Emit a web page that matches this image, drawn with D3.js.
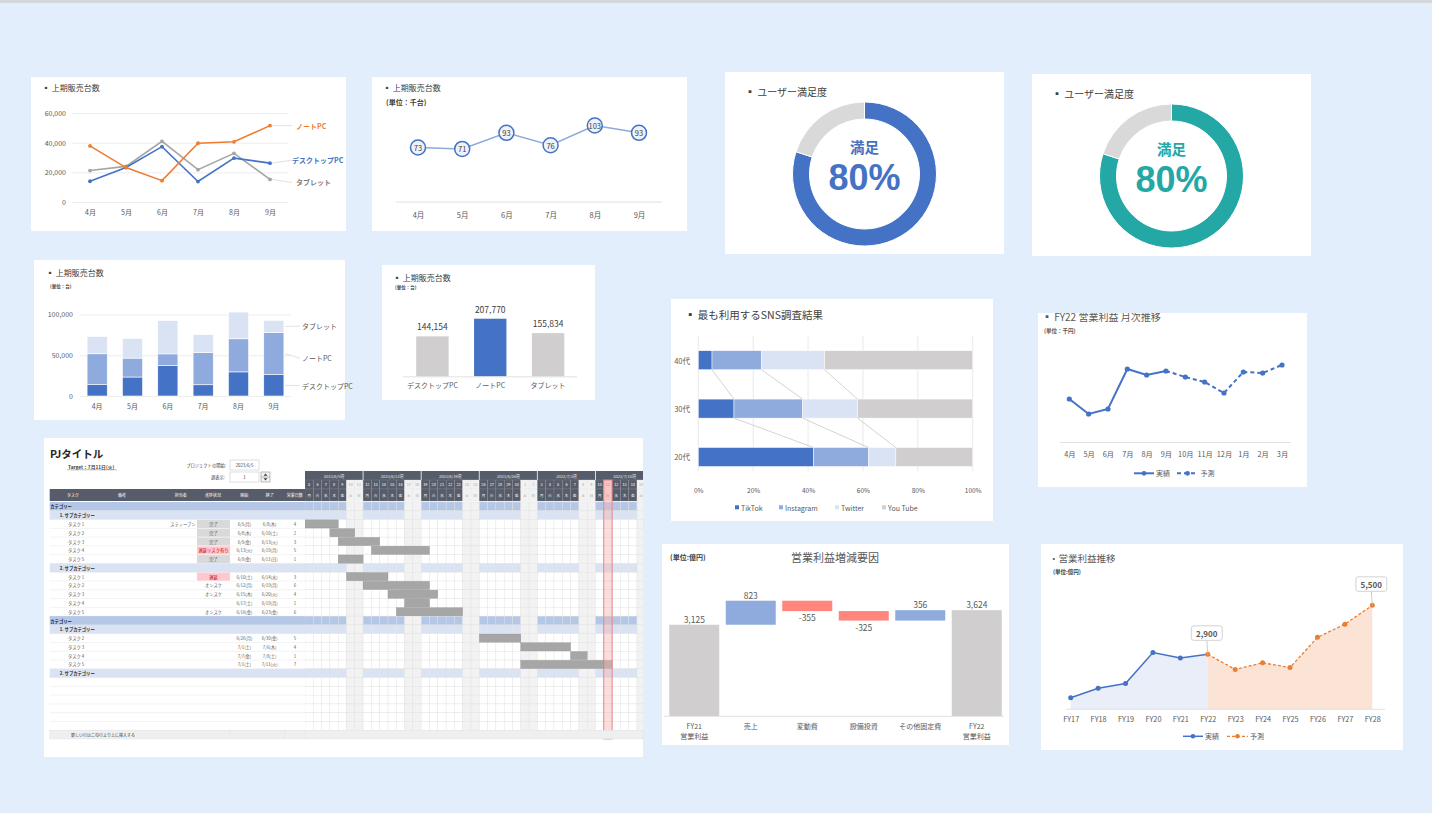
<!DOCTYPE html>
<html><head><meta charset="utf-8">
<script src="https://cdn.jsdelivr.net/npm/d3@7"></script>
<style>
html,body{margin:0;padding:0;background:#e2eefb;overflow:hidden;}
svg{display:block;font-family:"Noto Sans CJK JP","Noto Sans",sans-serif;}
</style></head><body>
<svg id="c" width="1432" height="813"></svg>
<script>
// ---------------- DATA ----------------
const months=["4月","5月","6月","7月","8月","9月"];
const desktopPC=[14000,23300,37300,13800,29600,26200];
const notePC=[37800,23200,14400,39600,40600,51500];
const tablet=[21200,24000,40900,21800,32800,15200];
const monthlyTotalK=[73,71,93,76,103,93];
const productNames=["デスクトップPC","ノートPC","タブレット"];
const productTotals=[144154,207770,155834];
const satisfaction=[0.8,0.2];
const ages=["40代","30代","20代"];
const snsNames=["TikTok","Instagram","Twitter","You Tube"];
const tiktok=[5,13,42];
const instagram=[18,25,20];
const twitter=[23,20,10];
const youtube=[54,42,28];
const fyMonths=["4月","5月","6月","7月","8月","9月","10月","11月","12月","1月","2月","3月"];
const fyProfit=[430,280,330,730,670,710,650,600,490,700,690,770];
const fyActualCount=6;
const wfCats=["FY21\n営業利益","売上","変動費","設備投資","その他固定費","FY22\n営業利益"];
const wfValues=[3125,823,-355,-325,356,3624];
const fyYears=["FY17","FY18","FY19","FY20","FY21","FY22","FY23","FY24","FY25","FY26","FY27","FY28"];
const opProfit=[600,1100,1350,3000,2700,2900,2100,2450,2200,3800,4500,5500];
const opActualCount=6;
const ganttColumns=["タスク","備考","担当者","進捗状況","開始","終了","営業日数"];
const ganttWeeks=["2023/6/5週","2023/6/12週","2023/6/19週","2023/6/26週","2023/7/3週","2023/7/10週"];
const ganttRows=[
 {type:"cat",name:"カテゴリー"},
 {type:"sub",name:"1. サブカテゴリー"},
 {type:"task",name:"タスク 1",owner:"スティーブン",status:"完了",start:"2023-06-05",end:"2023-06-08",days:4},
 {type:"task",name:"タスク 2",owner:"",status:"完了",start:"2023-06-08",end:"2023-06-10",days:2},
 {type:"task",name:"タスク 3",owner:"",status:"完了",start:"2023-06-09",end:"2023-06-13",days:3},
 {type:"task",name:"タスク 4",owner:"",status:"遅延リスク有り",start:"2023-06-13",end:"2023-06-19",days:5},
 {type:"task",name:"タスク 5",owner:"",status:"完了",start:"2023-06-09",end:"2023-06-11",days:1},
 {type:"sub",name:"2. サブカテゴリー"},
 {type:"task",name:"タスク 1",owner:"",status:"遅延",start:"2023-06-10",end:"2023-06-14",days:3},
 {type:"task",name:"タスク 2",owner:"",status:"オンスケ",start:"2023-06-12",end:"2023-06-19",days:6},
 {type:"task",name:"タスク 3",owner:"",status:"オンスケ",start:"2023-06-15",end:"2023-06-20",days:4},
 {type:"task",name:"タスク 4",owner:"",status:"",start:"2023-06-17",end:"2023-06-19",days:1},
 {type:"task",name:"タスク 5",owner:"",status:"オンスケ",start:"2023-06-16",end:"2023-06-23",days:6},
 {type:"cat",name:"カテゴリー"},
 {type:"sub",name:"1. サブカテゴリー"},
 {type:"task",name:"タスク 2",owner:"",status:"",start:"2023-06-26",end:"2023-06-30",days:5},
 {type:"task",name:"タスク 3",owner:"",status:"",start:"2023-07-01",end:"2023-07-06",days:4},
 {type:"task",name:"タスク 4",owner:"",status:"",start:"2023-07-07",end:"2023-07-08",days:1},
 {type:"task",name:"タスク 5",owner:"",status:"",start:"2023-07-01",end:"2023-07-11",days:7},
 {type:"sub",name:"2. サブカテゴリー"}
];
const ganttStartStr="2023-06-05", ganttTodayStr="2023-07-11";

// ---------------- HELPERS ----------------
const FONT='"Noto Sans CJK JP","Noto Sans",sans-serif';
const svg=d3.select("#c");
svg.append("rect").attr("width",1432).attr("height",813).attr("fill","#e2eefb");
svg.append("rect").attr("width",1432).attr("height",3).attr("fill","#d3d7dc");
const fmtNum=v=>d3.format(",")(v).replace("−","-");
function T(x,y,s,o={}){
  return (o.g||svg).append("text").attr("x",x).attr("y",y).text(s)
   .attr("font-size",o.size||7).attr("fill",o.fill||"#595959")
   .attr("text-anchor",o.anchor||"start").attr("dominant-baseline","central")
   .attr("font-weight",o.weight||"normal").attr("font-family",o.font||FONT);
}
function panel(x,y,w,h){svg.append("rect").attr("x",x).attr("y",y).attr("width",w).attr("height",h).attr("fill","#fff");}
function hline(x1,x2,y,c="#d9d9d9",w=0.8,g=svg){g.append("line").attr("x1",x1).attr("x2",x2).attr("y1",y).attr("y2",y).attr("stroke",c).attr("stroke-width",w);}
function xAxis(scale,y,size=7,fill="#595959"){
  const a=svg.append("g").attr("transform",`translate(0,${y})`).call(d3.axisBottom(scale).tickSize(0));
  a.select(".domain").remove();
  a.selectAll("text").attr("y",0).attr("dy",null).attr("dominant-baseline","central")
   .attr("font-size",size).attr("fill",fill).attr("font-family",FONT);
  return a;
}
function yAxisGrid(scale,x,ticks,width,pad,size=7){
  const a=svg.append("g").attr("transform",`translate(${x},0)`)
    .call(d3.axisLeft(scale).tickValues(ticks).tickSize(-width).tickPadding(pad).tickFormat(d3.format(",")));
  a.select(".domain").remove();
  a.selectAll("line").attr("stroke","#e8e8e8").attr("stroke-width",0.8);
  a.selectAll("text").attr("fill","#595959").attr("font-size",size).attr("font-family",FONT).attr("dy","0.35em");
  return a;
}
const BLUE="#4472c4", ORANGE="#ed7d31", GRAY="#a5a5a5";

// ---------------- PANEL 1: line chart ----------------
panel(31,77,315,154);
T(42,87,"▪ 上期販売台数",{size:8,fill:"#404040"});
const x1=d3.scalePoint().domain(months).range([90,270]);
const y1=d3.scaleLinear().domain([0,60000]).range([202,113]);
yAxisGrid(y1,72,[0,20000,40000,60000],216,6);
xAxis(x1,212);
const series1=[
  {name:"タブレット",values:tablet,color:GRAY,dy:3},
  {name:"デスクトップPC",values:desktopPC,color:BLUE,dy:-3},
  {name:"ノートPC",values:notePC,color:ORANGE,dy:0}
];
series1.forEach(s=>{
  const pts=s.values.map((v,i)=>[x1(months[i]),y1(v)]);
  svg.append("path").attr("d",d3.line()(pts)).attr("fill","none").attr("stroke",s.color).attr("stroke-width",1.6);
  svg.selectAll(null).data(pts).enter().append("circle").attr("cx",d=>d[0]).attr("cy",d=>d[1]).attr("r",1.9).attr("fill",s.color);
  const last=pts[pts.length-1];
  svg.append("line").attr("x1",last[0]+2).attr("y1",last[1]).attr("x2",last[0]+22).attr("y2",last[1]+s.dy).attr("stroke","#d9d9d9").attr("stroke-width",0.8);
  T(last[0]+(s.name==="デスクトップPC"?22:26),last[1]+s.dy,s.name,{size:7,fill:s.color==GRAY?"#7f7f7f":s.color,weight:"bold"});
});

// ---------------- PANEL 2: circles line ----------------
panel(372,77,315,154);
T(383,87,"▪ 上期販売台数",{size:8,fill:"#404040"});
T(386,102,"(単位：千台)",{size:7,fill:"#404040",weight:"bold"});
const x2=d3.scalePoint().domain(months).range([418,639]);
const y2=d3.scaleLinear().domain([0,120]).range([201,113]);
hline(396,662,202);
xAxis(x2,214,7.5);
const pts2=monthlyTotalK.map((v,i)=>[x2(months[i]),y2(v)]);
svg.append("path").attr("d",d3.line()(pts2)).attr("fill","none").attr("stroke","#8eaadb").attr("stroke-width",1.6);
svg.selectAll(null).data(pts2).enter().append("circle").attr("cx",d=>d[0]).attr("cy",d=>d[1]).attr("r",7.5)
  .attr("fill","#eef2fa").attr("stroke",BLUE).attr("stroke-width",1.5);
monthlyTotalK.forEach((v,i)=>T(pts2[i][0],pts2[i][1],v,{size:7.5,anchor:"middle",fill:"#404040"}));

// ---------------- PANEL 3/4: donuts ----------------
function donut(px,py,cx,cy,color){
  panel(px,py,279,182);
  T(px+20,py+19,"▪ ユーザー満足度",{size:10,fill:"#404040"});
  const arcs=d3.pie().sort(null)(satisfaction);
  const arc=d3.arc().innerRadius(55).outerRadius(72);
  svg.append("g").attr("transform",`translate(${cx},${cy})`).selectAll("path").data(arcs).enter().append("path")
    .attr("d",arc).attr("fill",(d,i)=>i===0?color:"#d9d9d9").attr("stroke","#fff").attr("stroke-width",1);
  T(cx,cy-28,"満足",{size:14.5,anchor:"middle",fill:color,weight:"bold"});
  T(cx,cy+3.5,d3.format(".0%")(satisfaction[0]),{size:36,anchor:"middle",fill:color,weight:"bold",font:'"Liberation Sans",Arial,sans-serif'});
}
donut(725,72,864.5,174,BLUE);
donut(1032,74,1171.5,176,"#23a8a6");

// ---------------- PANEL 5: stacked bar ----------------
panel(34,260,311,160);
T(46,272,"▪ 上期販売台数",{size:8,fill:"#404040"});
T(50,286,"(単位：台)",{size:4.5,fill:"#404040",weight:"bold"});
const x5=d3.scaleBand().domain(months).range([79.5,291.5]).paddingInner(0.43).paddingOuter(0.215);
const y5=d3.scaleLinear().domain([0,100000]).range([396,314.5]);
yAxisGrid(y5,80,[0,50000,100000],211,7);
xAxis(x5,406);
const stackData=months.map((m,i)=>({m,d:desktopPC[i],n:notePC[i],t:tablet[i]}));
const stk=d3.stack().keys(["d","n","t"])(stackData);
const c5=["#4472c4","#8faadc","#dae3f3"];
stk.forEach((layer,k)=>{
  svg.selectAll(null).data(layer).enter().append("rect")
    .attr("x",d=>x5(d.data.m)).attr("width",x5.bandwidth())
    .attr("y",d=>y5(d[1])).attr("height",d=>y5(d[0])-y5(d[1]))
    .attr("fill",c5[k]).attr("stroke","#fff").attr("stroke-width",0.6);
});
const lab5=[{k:0,name:"デスクトップPC",ly:385.7},{k:1,name:"ノートPC",ly:358},{k:2,name:"タブレット",ly:326}];
lab5.forEach(o=>{
  const d=stk[o.k][5];const my=y5((d[0]+d[1])/2);
  const xr=x5("9月")+x5.bandwidth();
  svg.append("line").attr("x1",xr+1).attr("y1",my).attr("x2",xr+16).attr("y2",o.ly).attr("stroke","#d9d9d9").attr("stroke-width",0.8);
  T(xr+18,o.ly,o.name,{size:7,fill:"#595959"});
});

// ---------------- PANEL 6: bar ----------------
panel(382,265,213,135);
T(393,277,"▪ 上期販売台数",{size:8,fill:"#404040"});
T(395,287,"(単位：台)",{size:4.5,fill:"#404040",weight:"bold"});
const x6=d3.scaleBand().domain(productNames).range([403.5,577]).paddingInner(0.44).paddingOuter(0.22);
const y6=d3.scaleLinear().domain([0,250000]).range([376.3,307]);
svg.selectAll(null).data(productTotals).enter().append("rect")
  .attr("x",(d,i)=>x6(productNames[i])).attr("width",x6.bandwidth())
  .attr("y",d=>y6(d)).attr("height",d=>y6(0)-y6(d))
  .attr("fill",(d,i)=>i===1?BLUE:"#d0cece");
productTotals.forEach((v,i)=>T(x6(productNames[i])+x6.bandwidth()/2,y6(v)-10,fmtNum(v),{size:8.5,anchor:"middle",fill:"#404040"}));
hline(403,577,376.8);
xAxis(x6,385,7);

// ---------------- PANEL 7: Gantt ----------------
panel(44,438,599,319);
const parse=d3.timeParse("%Y-%m-%d");
const gStart=parse(ganttStartStr), gToday=parse(ganttTodayStr);
const nDays=ganttWeeks.length*7;
const dayW=8.3;
const gx=d3.scaleTime().domain([gStart,d3.timeDay.offset(gStart,nDays)]).range([305,305+nDays*dayW]);
const days=d3.range(nDays).map(i=>d3.timeDay.offset(gStart,i));
const wk=["日","月","火","水","木","金","土"];
const isWE=d=>d.getDay()===0||d.getDay()===6;
const isToday=d=>+d===+gToday;
const fmtD=d=>`${d.getMonth()+1}/${d.getDate()}(${wk[d.getDay()]})`;
const rowTop=502,rowH=8.78,nRows=26,leftX=49.7,dateX=305;
const DARK="#565c69";
svg.append("defs").append("clipPath").attr("id","gclip").append("rect").attr("x",305).attr("y",460).attr("width",338).attr("height",297);
T(50,453,"PJタイトル",{size:10.5,fill:"#262626",weight:"bold"});
T(68,466,"Target：7月11日(火)",{size:4.8,fill:"#404040",weight:"bold"});
hline(67,117,469.8,"#8c8c8c",0.6);
T(226,465,"プロジェクトの開始:",{size:4.3,anchor:"end",fill:"#404040"});
svg.append("rect").attr("x",230).attr("y",460).attr("width",29).attr("height",10).attr("fill","#fff").attr("stroke","#c8c8c8").attr("stroke-width",0.6);
T(244.5,465,"2023/6/5",{size:4.3,anchor:"middle",fill:"#404040"});
T(225,477,"週表示:",{size:4.3,anchor:"end",fill:"#404040"});
svg.append("rect").attr("x",230).attr("y",472).attr("width",29).attr("height",10).attr("fill","#fff").attr("stroke","#c8c8c8").attr("stroke-width",0.6);
T(244.5,477,"1",{size:4.3,anchor:"middle",fill:"#404040"});
svg.append("rect").attr("x",261).attr("y",472).attr("width",9).attr("height",10).attr("fill","#f4f4f4").attr("stroke","#7f7f7f").attr("stroke-width",0.5);
hline(261,270,477,"#7f7f7f",0.5);
svg.append("path").attr("d","M263.5,475.8L265.5,473.6L267.5,475.8Z M263.5,478.2L265.5,480.4L267.5,478.2Z").attr("fill","#404040");

const gg=svg.append("g");
const gd=svg.append("g").attr("clip-path","url(#gclip)");
gg.append("rect").attr("x",leftX).attr("y",489).attr("width",dateX-leftX).attr("height",12).attr("fill",DARK);
const colX=[73,122,180.7,213,244.3,269.7,294.7];
ganttColumns.forEach((c,i)=>T(colX[i],495,c,{g:gg,size:4,anchor:"middle",fill:"#fff"}));
gd.append("rect").attr("x",dateX).attr("y",471).attr("width",nDays*dayW).attr("height",9).attr("fill",DARK);
ganttWeeks.forEach((w,i)=>{
  const x0=gx(d3.timeDay.offset(gStart,i*7));
  T(x0+3.5*dayW,475.5,w,{g:gd,size:4,anchor:"middle",fill:"#e8e8e8"});
  if(i>0) gd.append("line").attr("x1",x0).attr("x2",x0).attr("y1",471).attr("y2",480).attr("stroke","#fff").attr("stroke-width",0.8);
});
days.forEach(d=>{
  const x=gx(d), we=isWE(d), td=isToday(d);
  [[480,9,d.getDate()],[489,12,wk[d.getDay()]]].forEach(([y,h,s])=>{
    gd.append("rect").attr("x",x).attr("y",y).attr("width",dayW).attr("height",h)
      .attr("fill",td?"#f8d6d6":we?"#f2f2f2":DARK).attr("stroke",we||td?"#e3e3e3":"#8a909c").attr("stroke-width",0.3);
    T(x+dayW/2,y+h/2,s,{g:gd,size:3.8,anchor:"middle",fill:td?"#e03c3c":we?"#a6a6a6":"#fff"});
  });
});
const rowFill={cat:"#b4c7e7",sub:"#dae3f3"};
for(let i=0;i<nRows;i++){
  const r=ganttRows[i]||{type:"empty"};
  const y=rowTop+i*rowH;
  if(rowFill[r.type]) gg.append("rect").attr("x",leftX).attr("y",y).attr("width",dateX-leftX).attr("height",rowH).attr("fill",rowFill[r.type]);
  hline(leftX,dateX,y+rowH,"#e6e6e6",0.5,gg);
  days.forEach(d=>{
    gd.append("rect").attr("x",gx(d)).attr("y",y).attr("width",dayW).attr("height",rowH)
      .attr("fill",isWE(d)?"#f2f2f2":(rowFill[r.type]||"#fff")).attr("stroke","#e0e0e0").attr("stroke-width",0.4);
  });
  const cy=y+rowH/2;
  if(r.type==="cat") T(50.3,cy,r.name,{g:gg,size:4.3,fill:"#262626",weight:"bold"});
  if(r.type==="sub") T(59.7,cy,r.name,{g:gg,size:4.3,fill:"#262626",weight:"bold"});
  if(r.type==="task"){
    T(68,cy,r.name,{g:gg,size:4.3,fill:"#595959"});
    if(r.owner) T(183,cy,r.owner,{g:gg,size:4.3,anchor:"middle",fill:"#595959"});
    if(r.status){
      const bad=r.status.startsWith("遅延");
      if(r.status==="完了"||bad) gg.append("rect").attr("x",197).attr("y",y+0.4).attr("width",33).attr("height",rowH-0.8).attr("fill",bad?"#ffc7ce":"#d9d9d9");
      T(213.5,cy,r.status,{g:gg,size:4.3,anchor:"middle",fill:bad?"#c00000":"#595959"});
    }
    const s=parse(r.start), e=parse(r.end);
    T(244.5,cy,fmtD(s),{g:gg,size:4.3,anchor:"middle",fill:"#595959"});
    T(269.7,cy,fmtD(e),{g:gg,size:4.3,anchor:"middle",fill:"#595959"});
    T(295,cy,r.days,{g:gg,size:4.3,anchor:"middle",fill:"#595959"});
  }
}
const fy=rowTop+nRows*rowH;
svg.append("rect").attr("x",leftX).attr("y",fy).attr("width",643-leftX).attr("height",8.7).attr("fill","#efefef").attr("stroke","#e0e0e0").attr("stroke-width",0.4);
[229.7,284.7,305].forEach(x=>svg.append("line").attr("x1",x).attr("x2",x).attr("y1",fy).attr("y2",fy+8.7).attr("stroke","#e0e0e0").attr("stroke-width",0.5));
T(71,fy+4.35,"新しい行はこの行より上に挿入する",{size:4,fill:"#404040"});
ganttRows.forEach((r,i)=>{
  if(r.type!=="task") return;
  const s=parse(r.start), e=d3.timeDay.offset(parse(r.end),1);
  gd.append("rect").attr("x",gx(s)).attr("y",rowTop+i*rowH+0.3).attr("width",gx(e)-gx(s)).attr("height",rowH-0.6)
    .attr("fill","#a6a6a6").attr("stroke","#8c8c8c").attr("stroke-width",0.3);
});
gd.append("rect").attr("x",gx(gToday)).attr("y",480).attr("width",dayW).attr("height",fy+8.7-480)
  .attr("fill","#f4b3b3").attr("fill-opacity",0.45).attr("stroke","#e57373").attr("stroke-width",0.8);

// ---------------- PANEL 8: SNS ----------------
panel(671,299,322,222);
T(685,314,"▪ 最も利用するSNS調査結果",{size:10.5,fill:"#404040"});
const xS=d3.scaleLinear().domain([0,1]).range([698.3,972.7]);
const yS=d3.scaleBand().domain(ages).range([326.5,490.7]).paddingInner(0.607).paddingOuter(0.5);
const gS=svg.append("g").attr("transform","translate(0,490.3)")
  .call(d3.axisBottom(xS).tickValues(d3.range(0,1.01,0.2)).tickFormat(d3.format(".0%")).tickSize(0));
gS.select(".domain").remove();
gS.selectAll("text").attr("y",0).attr("dy",null).attr("dominant-baseline","central").attr("font-size",6.5).attr("fill","#595959").attr("font-family",FONT);
d3.range(0,1.01,0.2).forEach(v=>svg.append("line").attr("x1",xS(v)).attr("x2",xS(v)).attr("y1",336).attr("y2",471.3).attr("stroke","#e3e3e3").attr("stroke-width",0.8));
const snsData=ages.map((a,i)=>({age:a,TikTok:tiktok[i],Instagram:instagram[i],Twitter:twitter[i],"You Tube":youtube[i]}));
const stS=d3.stack().keys(snsNames).offset(d3.stackOffsetExpand)(snsData);
const cS=["#4472c4","#8faadc","#dae3f3","#d0cece"];
stS.forEach((layer,k)=>{
  svg.selectAll(null).data(layer).enter().append("rect")
    .attr("x",d=>xS(d[0])).attr("width",d=>xS(d[1])-xS(d[0]))
    .attr("y",d=>yS(d.data.age)).attr("height",yS.bandwidth()).attr("fill",cS[k]).attr("stroke","#fff").attr("stroke-width",0.5);
});
for(let k=0;k<3;k++) for(let i=0;i<ages.length-1;i++){
  svg.append("line").attr("x1",xS(stS[k][i][1])).attr("y1",yS(ages[i])+yS.bandwidth())
    .attr("x2",xS(stS[k][i+1][1])).attr("y2",yS(ages[i+1])).attr("stroke","#c8c8c8").attr("stroke-width",0.8);
}
ages.forEach(a=>T(690,yS(a)+yS.bandwidth()/2,a,{size:7.5,anchor:"end",fill:"#595959"}));
const legSX=[735,779,835,882];
snsNames.forEach((n,i)=>{
  svg.append("rect").attr("x",legSX[i]).attr("y",505.3).attr("width",4).attr("height",4).attr("fill",cS[i]);
  T(legSX[i]+6,507.5,n,{size:7,fill:"#595959"});
});

// ---------------- PANEL 9: FY22 monthly ----------------
svg.append("defs").append("clipPath").attr("id","p9").append("rect").attr("x",1038).attr("y",313).attr("width",269).attr("height",174);
panel(1038,313,269,174);
const g9=svg.append("g").attr("clip-path","url(#p9)");
T(1042,316.5,"▪ FY22 営業利益 月次推移",{g:g9,size:10,fill:"#595959"});
T(1044,331,"(単位：千円)",{size:5.5,fill:"#595959",weight:"bold"});
const xF=d3.scalePoint().domain(fyMonths).range([1069.3,1282]);
const yF=d3.scaleLinear().domain([0,1000]).range([442,342]);
hline(1060,1291,442.5);
xAxis(xF,454.3,7.3);
const ptsF=fyProfit.map((v,i)=>[xF(fyMonths[i]),yF(v)]);
svg.append("path").attr("d",d3.line()(ptsF.slice(0,fyActualCount))).attr("fill","none").attr("stroke",BLUE).attr("stroke-width",2);
svg.append("path").attr("d",d3.line()(ptsF.slice(fyActualCount-1))).attr("fill","none").attr("stroke",BLUE).attr("stroke-width",2).attr("stroke-dasharray","4,3");
svg.selectAll(null).data(ptsF).enter().append("circle").attr("cx",d=>d[0]).attr("cy",d=>d[1]).attr("r",2.6).attr("fill",BLUE);
svg.append("line").attr("x1",1134).attr("x2",1154).attr("y1",473.3).attr("y2",473.3).attr("stroke",BLUE).attr("stroke-width",2);
svg.append("circle").attr("cx",1144).attr("cy",473.3).attr("r",2.4).attr("fill",BLUE);
T(1156,473.3,"実績",{size:7,fill:"#595959"});
svg.append("line").attr("x1",1177).attr("x2",1198).attr("y1",473.3).attr("y2",473.3).attr("stroke",BLUE).attr("stroke-width",2).attr("stroke-dasharray","4,3");
svg.append("circle").attr("cx",1187.5).attr("cy",473.3).attr("r",2.4).attr("fill",BLUE);
T(1200.5,473.3,"予測",{size:7,fill:"#595959"});

// ---------------- PANEL 10: waterfall ----------------
panel(662,544,347,201);
T(670,557,"(単位:億円)",{size:7,fill:"#404040",weight:"bold"});
T(835,557,"営業利益増減要因",{size:11,anchor:"middle",fill:"#595959"});
const xW=d3.scaleBand().domain(wfCats).range([666,1005]).paddingInner(0.115).paddingOuter(0.0575);
const yW=d3.scaleLinear().domain([0,5000]).range([716,570]);
let cum=0;
const wf=wfValues.map((v,i)=>{
  if(i===0){cum=v;return {c:wfCats[i],y0:0,y1:v,v,type:"total"};}
  if(i===wfValues.length-1) return {c:wfCats[i],y0:0,y1:v,v,type:"total"};
  const s=cum;cum+=v;return {c:wfCats[i],y0:s,y1:cum,v,type:v>=0?"up":"down"};
});
const cW={total:"#d0cece",up:"#8faadc",down:"#ff857d"};
svg.selectAll(null).data(wf).enter().append("rect")
  .attr("x",d=>xW(d.c)).attr("width",xW.bandwidth())
  .attr("y",d=>yW(Math.max(d.y0,d.y1))).attr("height",d=>Math.abs(yW(d.y0)-yW(d.y1)))
  .attr("fill",d=>cW[d.type]);
wf.forEach(d=>{
  const cx=xW(d.c)+xW.bandwidth()/2;
  const y=d.type==="down"?yW(Math.min(d.y0,d.y1))+6:yW(Math.max(d.y0,d.y1))-6;
  T(cx,y,fmtNum(d.v),{size:8.5,anchor:"middle",fill:"#595959"});
});
hline(664,1004,716.3);
const aW=svg.append("g").attr("transform","translate(0,725.7)").call(d3.axisBottom(xW).tickSize(0).tickFormat(""));
aW.select(".domain").remove();
aW.selectAll(".tick").each(function(d){
  d.split("\n").forEach((s,j)=>d3.select(this).append("text").attr("y",j*10).attr("dominant-baseline","central")
    .attr("text-anchor","middle").attr("font-size",7).attr("fill","#595959").attr("font-family",FONT).text(s));
});

// ---------------- PANEL 11: area ----------------
panel(1041,544,362,206);
T(1049,558,"・営業利益推移",{size:9.5,fill:"#595959"});
T(1053,572,"(単位:億円)",{size:5.5,fill:"#404040",weight:"bold"});
const xA=d3.scalePoint().domain(fyYears).range([1070.7,1372.3]);
const yA=d3.scaleLinear().domain([0,6000]).range([709,595.9]);
const ptsA=opProfit.map((v,i)=>({x:xA(fyYears[i]),y:yA(v),v}));
const act=ptsA.slice(0,opActualCount), fc=ptsA.slice(opActualCount-1);
const areaA=d3.area().x(d=>d.x).y0(yA(0)).y1(d=>d.y);
svg.append("path").attr("d",areaA(act)).attr("fill","#e9eef8");
svg.append("path").attr("d",areaA(fc)).attr("fill","#fbe4d5");
hline(1066,1385,709.3);
xAxis(xA,719,7.3);
const lineA=d3.line().x(d=>d.x).y(d=>d.y);
svg.append("path").attr("d",lineA(act)).attr("fill","none").attr("stroke",BLUE).attr("stroke-width",1.5);
svg.append("path").attr("d",lineA(fc)).attr("fill","none").attr("stroke",ORANGE).attr("stroke-width",1.3).attr("stroke-dasharray","3,2");
svg.selectAll(null).data(ptsA).enter().append("circle").attr("cx",d=>d.x).attr("cy",d=>d.y).attr("r",2.5)
  .attr("fill",(d,i)=>i<opActualCount-1?BLUE:ORANGE);
[opActualCount-1,opProfit.length-1].forEach(i=>{
  const p=ptsA[i];const bw=31,bh=14.5,by=p.y-14-bh;
  svg.append("line").attr("x1",p.x).attr("x2",p.x-1).attr("y1",p.y).attr("y2",by+bh).attr("stroke","#bfbfbf").attr("stroke-width",0.8);
  svg.append("rect").attr("x",p.x-bw/2-1).attr("y",by).attr("width",bw).attr("height",bh).attr("rx",2.5)
    .attr("fill","#fff").attr("stroke","#c8c8c8").attr("stroke-width",0.8);
  T(p.x-1,by+bh/2,fmtNum(p.v),{size:8,anchor:"middle",fill:"#595959",weight:"bold"});
});
svg.append("line").attr("x1",1183).attr("x2",1203).attr("y1",736.3).attr("y2",736.3).attr("stroke",BLUE).attr("stroke-width",1.5);
svg.append("circle").attr("cx",1193).attr("cy",736.3).attr("r",2.3).attr("fill",BLUE);
T(1205,736.3,"実績",{size:7,fill:"#595959"});
svg.append("line").attr("x1",1227).attr("x2",1248).attr("y1",736.3).attr("y2",736.3).attr("stroke",ORANGE).attr("stroke-width",1.3).attr("stroke-dasharray","3,2");
svg.append("circle").attr("cx",1237.5).attr("cy",736.3).attr("r",2.3).attr("fill",ORANGE);
T(1250,736.3,"予測",{size:7,fill:"#595959"});
</script></body></html>
